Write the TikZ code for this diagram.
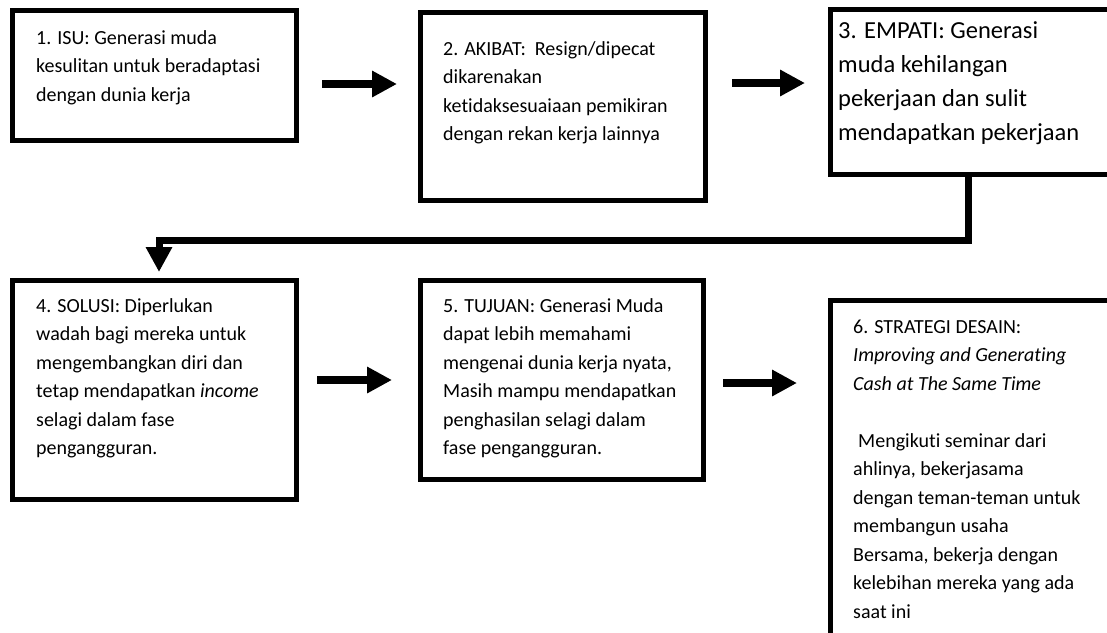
\documentclass[tikz,border=0pt]{standalone}
\usepackage{fontspec}
\setmainfont{Carlito}[RawFeature={-liga;-clig;-dlig}]
\usetikzlibrary{arrows.meta,calc}
\begin{document}
\begin{tikzpicture}[x=1pt,y=-1pt,
  box/.style={draw=black,line width=5pt,inner sep=0pt,outer sep=0pt,anchor=north west},
  txt/.style={inner sep=0pt,anchor=base west,text=black},
  flow/.style={line width=8.5pt,-{Triangle[width=25pt,length=25pt]}},
  link/.style={line width=7pt,-{Triangle[width=25pt,length=25pt]}},
  norm/.style={font=\fontsize{20}{28.5}\selectfont},
  big/.style={font=\fontsize{24.5}{34}\selectfont}]
\useasboundingbox (0,0) rectangle (1107,632);
\clip (0,0) rectangle (1107,632);
\fill[white] (0,0) rectangle (1107,632);
% boxes
\node[box,minimum width=284pt,minimum height=130pt] (b1) at (12.5,10.5) {};
\node[box,minimum width=285pt,minimum height=188pt] (b2) at (420.5,12.5) {};
\node[box,minimum width=300pt,minimum height=165pt] (b3) at (830.5,9.5) {};
\node[box,minimum width=284pt,minimum height=219pt] (b4) at (12.5,280.5) {};
\node[box,minimum width=283pt,minimum height=199pt] (b5) at (420.5,280.5) {};
\node[box,minimum width=300pt,minimum height=360pt] (b6) at (830.5,300.5) {};
% texts
\node[txt,norm] (t1) at (36,44) {\parbox[t]{270pt}{1. ISU: Generasi muda\\kesulitan untuk beradaptasi\\dengan dunia kerja}};
\node[txt,norm] (t2) at (443,55) {\parbox[t]{270pt}{2. AKIBAT:\ \ Resign/dipecat\\dikarenakan\\ketidaksesuaiaan pemikiran\\dengan rekan kerja lainnya}};
\node[txt,big] (t3) at (838,38) {\parbox[t]{270pt}{3. EMPATI: Generasi\\muda kehilangan\\pekerjaan dan sulit\\mendapatkan pekerjaan}};
\node[txt,norm] (t4) at (36,312) {\parbox[t]{270pt}{4. SOLUSI: Diperlukan\\wadah bagi mereka untuk\\mengembangkan diri dan\\tetap mendapatkan \textit{income}\\selagi dalam fase\\pengangguran.}};
\node[txt,norm] (t5) at (443,312) {\parbox[t]{270pt}{5. TUJUAN: Generasi Muda\\dapat lebih memahami\\mengenai dunia kerja nyata,\\Masih mampu mendapatkan\\penghasilan selagi dalam\\fase pengangguran.}};
\node[txt,norm] (t6) at (853,333) {\parbox[t]{270pt}{6. STRATEGI DESAIN:\\\textit{Improving and Generating}\\\textit{Cash at The Same Time}\\[28.5pt]\hspace*{0.25em}Mengikuti seminar dari\\ahlinya, bekerjasama\\dengan teman-teman untuk\\membangun usaha\\Bersama, bekerja dengan\\kelebihan mereka yang ada\\saat ini}};
% arrows
\draw[flow] ($(b1.east)+(25.5,8.5)$) -- ($(b1.east -| b2.west)+(-23.5,8.5)$);
\draw[flow] ($(b2.east)+(26.5,-23.5)$) -- ($(b2.east -| b3.west)+(-25.5,-23.5)$);
\draw[flow] ($(b4.east)+(20.5,-10)$) -- ($(b4.east -| b5.west)+(-28.5,-10)$);
\draw[flow] ($(b5.east)+(19.5,3)$) -- ($(b5.east -| b6.west)+(-33.5,3)$);
\draw[link] ($(b3.south west)+(137.5,0)$) |- ($(b4.north west)+(146.5,-40.5)$) -- ($(b4.north west)+(146.5,-8.5)$);
\end{tikzpicture}
\end{document}
